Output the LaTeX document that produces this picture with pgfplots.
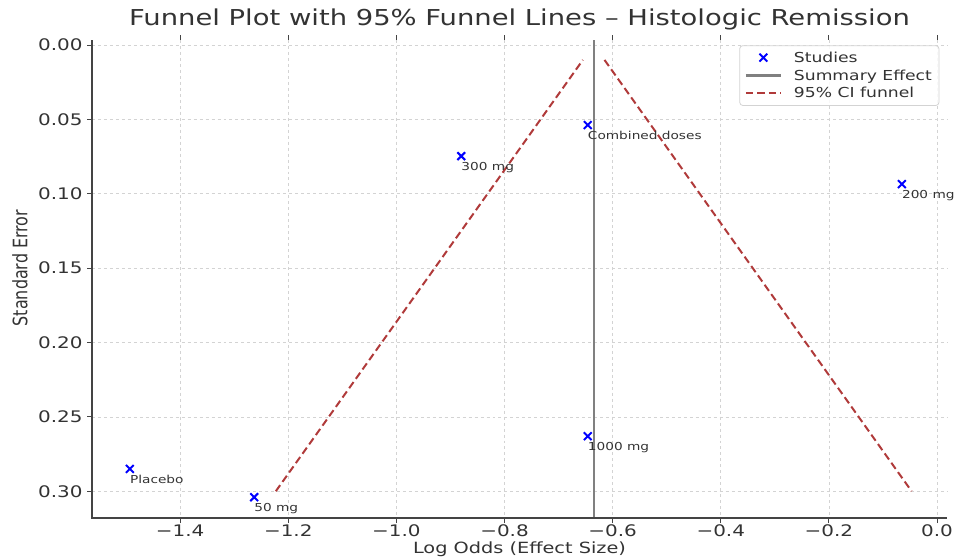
\documentclass[border=0pt]{standalone}
\usepackage{graphicx}
\usepackage{pgfplots}
\pgfplotsset{compat=1.18}
\usepackage{fontspec}
\setmainfont{DejaVu Sans}[FakeStretch=1.25]
\newfontfamily\plainfont{DejaVu Sans}
\definecolor{funnel}{HTML}{B03A3A}
\definecolor{gridc}{HTML}{D3D3D3}
\definecolor{txt}{HTML}{333333}
\definecolor{spine}{HTML}{444444}
\pgfplotsset{
  legline/.style={legend image code/.code={\draw[##1] (0bp,0bp) -- (35bp,0bp); \path (45bp,0bp);}},
  legmark/.style={legend image code/.code={\path (0bp,0bp) (45bp,0bp); \draw[##1] plot coordinates {(17.5bp,0bp)};}},
}
\begin{document}
\begin{tikzpicture}
\begin{axis}[
  scale only axis, width=855bp, height=478bp,
  xmin=-1.563, xmax=0.0185, ymin=-0.0034, ymax=0.318,
  y dir=reverse,
  axis line style={draw=none},
  tick align=outside,
  xtick pos=both, ytick pos=left,
  xtick={-1.4,-1.2,-1.0,-0.8,-0.6,-0.4,-0.2,0.0},
  xticklabels={−1.4,−1.2,−1.0,−0.8,−0.6,−0.4,−0.2,0.0},
  ytick={0,0.05,0.10,0.15,0.20,0.25,0.30},
  yticklabels={0.00,0.05,0.10,0.15,0.20,0.25,0.30},
  tick style={spine, line width=0.9pt},
  major tick length=5bp,
  ticklabel style={font=\fontsize{16}{18}\selectfont, text=txt},
  yticklabel style={xshift=-1bp},
  xticklabel style={yshift=2bp},
  grid=major,
  grid style={gridc, dashed, line width=0.6pt},
  title={Funnel Plot with 95\% Funnel Lines – Histologic Remission},
  title style={at={(axis description cs:0.5,1)}, anchor=base, yshift=9bp,
    font=\fontsize{22}{26}\selectfont, text=txt},
  xlabel={Log Odds (Effect Size)},
  xlabel style={at={(axis description cs:0.5,0)}, anchor=base, yshift=-35bp,
    font=\fontsize{15.5}{18}\selectfont, text=txt},
  ylabel={\plainfont\scalebox{1}[1.25]{Standard Error}},
  ylabel style={at={(axis description cs:-0.0842,0.523)}, anchor=center,
    font=\fontsize{16}{18}\selectfont, text=txt},
  legend style={at={(axis description cs:0.991,0.989)}, anchor=north east,
    draw=gridc, line width=0.8pt, rounded corners=3pt, fill=white, fill opacity=0.85, text opacity=1,
    font=\fontsize{13.8}{16.5}\selectfont, text=txt, row sep=2bp, inner xsep=5bp, inner ysep=4bp},
  legend cell align=left,
  clip=false,
]
\addplot[only marks, mark=x, mark size=5.5bp, blue, line width=2pt, legmark] coordinates {
  (-1.493,0.285) (-1.263,0.304) (-0.880,0.0747) (-0.646,0.0538) (-0.646,0.263) (-0.065,0.0935)
};
\addlegendentry{Studies}
\addplot[gray, line width=2.2pt, legline] coordinates {(-0.635,-0.0034) (-0.635,0.318)};
\addlegendentry{Summary Effect}
\addplot[funnel, line width=2pt, dash pattern=on 7.5bp off 4bp, legline] coordinates {(-1.223,0.30) (-0.655,0.010)};
\addlegendentry{95\% CI funnel}
\addplot[funnel, line width=2pt, dash pattern=on 7.5bp off 4bp, forget plot] coordinates {(-0.615,0.010) (-0.047,0.30)};
\draw[spine, line width=1.2pt] (axis description cs:0,1) -- (axis description cs:0,0) -- (axis description cs:1,0);
\begin{scope}[every node/.style={anchor=north west, font=\fontsize{11}{13}\selectfont, text=txt, inner sep=0pt, yshift=-6bp}]
\node at (axis cs:-1.493,0.285) {Placebo};
\node at (axis cs:-1.263,0.304) {50 mg};
\node at (axis cs:-0.880,0.0747) {300 mg};
\node at (axis cs:-0.646,0.0538) {Combined doses};
\node at (axis cs:-0.646,0.263) {1000 mg};
\node at (axis cs:-0.065,0.0935) {200 mg};
\end{scope}
\coordinate (bl) at (axis description cs:0,0);
\coordinate (tr) at (axis description cs:1,1);
\end{axis}
\pgfresetboundingbox
\path ([xshift=-92bp,yshift=-40bp]bl) rectangle ([xshift=7bp,yshift=40bp]tr);
\end{tikzpicture}
\end{document}
